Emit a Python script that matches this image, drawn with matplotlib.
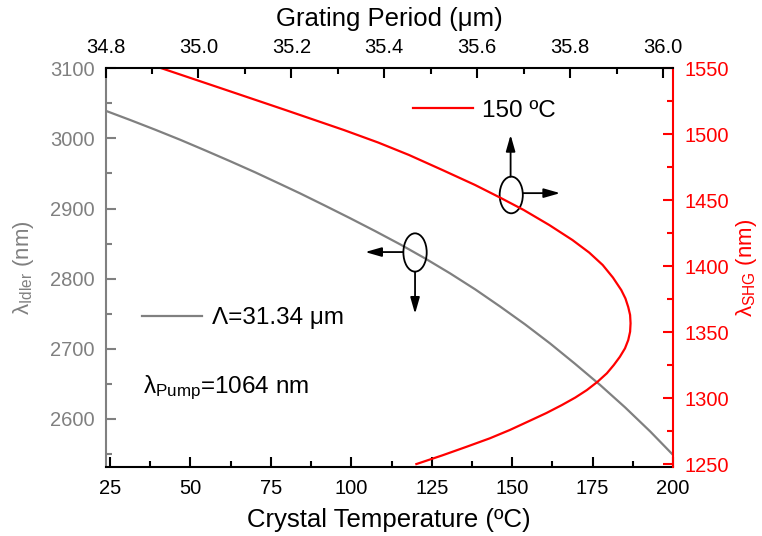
import matplotlib
matplotlib.use("Agg")
import matplotlib.pyplot as plt
from matplotlib.patches import Ellipse
from matplotlib.lines import Line2D
from matplotlib.ticker import MultipleLocator

plt.rcParams['font.family'] = ['Liberation Sans', 'DejaVu Sans']
plt.rcParams['mathtext.fontset'] = 'custom'
plt.rcParams['mathtext.rm'] = 'Liberation Sans'
plt.rcParams['mathtext.it'] = 'Liberation Sans:italic'

# -------------------------
# Data
# -------------------------
# idler wavelength vs crystal temperature (grating 31.34 um)
temp_c = [23.6, 31.2, 39.0, 46.8, 54.5, 62.3, 70.1, 77.8, 84.1, 91.8, 99.6, 107.4,
          115.2, 122.9, 130.7, 138.5, 146.2, 154.0, 161.8, 169.5, 177.3, 185.1, 192.9, 200]
idler_nm = [3039.5, 3026.4, 3012.5, 2998.1, 2983.1, 2967.6, 2951.7, 2935.2, 2921.6, 2904.2,
            2886.3, 2867.9, 2848.9, 2829.0, 2807.6, 2784.8, 2760.5, 2734.9, 2707.6, 2678.8,
            2648.6, 2616.5, 2582.2, 2548.7]

# SHG wavelength vs grating period (150 C)
period_um = [34.914, 35.060, 35.187, 35.313, 35.387, 35.453, 35.525, 35.595, 35.649, 35.700,
             35.755, 35.805, 35.841, 35.870, 35.892, 35.910, 35.919, 35.925, 35.929, 35.930,
             35.929, 35.925, 35.918, 35.907, 35.894, 35.879, 35.859, 35.836, 35.811, 35.782,
             35.749, 35.713, 35.670, 35.627, 35.577, 35.525, 35.469]
shg_nm = [1550.8, 1533.5, 1518.4, 1503.2, 1493.7, 1484.3, 1472.9, 1461.6, 1452.0, 1442.6,
          1431.2, 1419.8, 1410.3, 1400.9, 1391.4, 1381.9, 1375.5, 1369.0, 1363.0, 1356.7,
          1350.3, 1344.0, 1337.7, 1331.3, 1325.1, 1318.8, 1312.4, 1306.1, 1300.4, 1294.7,
          1288.7, 1282.8, 1275.8, 1269.5, 1263.1, 1256.6, 1250.0]

GRAY = "#808080"
RED = "#ff0000"
TICK_FS = 14.5
XLABEL_FS = 18.5
YLABEL_FS = 16
LEG_FS = 17.5

fig = plt.figure(figsize=(7.62, 5.36), dpi=100)
ax = fig.add_axes([0.1385, 0.1293, 0.7448, 0.7433])
ax2 = ax.twinx()
ax3 = ax2.twiny()

# idler curve (bottom / left axes)
ax.plot(temp_c, idler_nm, color=GRAY, lw=1.6)
ax.set_xlim(23.6, 200)
ax.set_ylim(2532, 3100)
ax.xaxis.set_major_locator(MultipleLocator(25))
ax.xaxis.set_minor_locator(MultipleLocator(12.5))
ax.yaxis.set_major_locator(MultipleLocator(100))
ax.yaxis.set_minor_locator(MultipleLocator(50))
ax.set_xlabel("Crystal Temperature (ºC)", fontsize=XLABEL_FS, labelpad=7)
ax.set_ylabel("λ$_{\\mathrm{Idler}}$ (nm)", fontsize=YLABEL_FS, color=GRAY, labelpad=10)

# SHG curve (top / right axes)
ax2.set_ylim(1248, 1550)
ax2.yaxis.set_major_locator(MultipleLocator(50))
ax2.yaxis.set_minor_locator(MultipleLocator(25))
ax2.set_ylabel("λ$_{\\mathrm{SHG}}$ (nm)", fontsize=YLABEL_FS, color=RED, labelpad=4)

ax3.plot(period_um, shg_nm, color=RED, lw=1.6)
ax3.set_xlim(34.8, 36.0215)
ax3.xaxis.set_major_locator(MultipleLocator(0.2))
ax3.xaxis.set_minor_locator(MultipleLocator(0.1))
ax3.xaxis.set_major_formatter(lambda v, pos: f"{v:.1f}")
ax3.set_xlabel("Grating Period (μm)", fontsize=XLABEL_FS, labelpad=9)

# spines
for a in (ax, ax2, ax3):
    for s in a.spines.values():
        s.set_visible(False)
        s.set_linewidth(1.5)
ax.spines['left'].set_visible(True)
ax.spines['left'].set_color(GRAY)
ax.spines['bottom'].set_visible(True)
ax2.spines['right'].set_visible(True)
ax2.spines['right'].set_color(RED)
ax3.spines['top'].set_visible(True)

# ticks
ax.tick_params(axis='x', which='both', direction='in', width=1.5, labelsize=TICK_FS, pad=9)
ax.tick_params(axis='x', which='major', length=7)
ax.tick_params(axis='x', which='minor', length=4)
ax.tick_params(axis='y', which='both', direction='in', width=1.5, color=GRAY,
               labelcolor=GRAY, labelsize=TICK_FS, pad=8)
ax.tick_params(axis='y', which='major', length=7)
ax.tick_params(axis='y', which='minor', length=4)
ax2.tick_params(axis='y', which='both', direction='in', width=1.5, color=RED,
                labelcolor=RED, labelsize=TICK_FS, pad=8)
ax2.tick_params(axis='y', which='major', length=7)
ax2.tick_params(axis='y', which='minor', length=4)
ax3.tick_params(axis='x', which='both', direction='in', width=1.5, labelsize=TICK_FS, pad=8)
ax3.tick_params(axis='x', which='major', length=7)
ax3.tick_params(axis='x', which='minor', length=4)

# legends
h_red = Line2D([], [], color=RED, lw=1.6)
leg1 = ax3.legend([h_red], ["150 ºC"], loc='center left', bbox_to_anchor=(0.542, 0.893),
                  frameon=False, fontsize=LEG_FS, handlelength=2.45, handletextpad=0.4,
                  borderpad=0, borderaxespad=0)
h_gray = Line2D([], [], color=GRAY, lw=1.6)
leg2 = ax3.legend([h_gray], ["Λ=31.34 μm"], loc='center left', bbox_to_anchor=(0.065, 0.372),
                  frameon=False, fontsize=LEG_FS, handlelength=2.45, handletextpad=0.4,
                  borderpad=0, borderaxespad=0)
ax3.add_artist(leg1)

ax3.text(0.066, 0.184, "λ$_{\\mathrm{Pump}}$=1064 nm", transform=ax3.transAxes,
         fontsize=LEG_FS, va='baseline', ha='left')

# ellipses + arrows marking which axis belongs to which curve
arr = dict(arrowstyle='-|>,head_length=0.7,head_width=0.2', color='black', lw=1.3,
           shrinkA=0, shrinkB=0, mutation_scale=14)
ax.add_patch(Ellipse((119.8, 2837.4), 7.25, 54.6, fill=False, ec='black', lw=1.3, zorder=5))
ax.annotate("", xy=(104.3, 2838), xytext=(116.1, 2838), arrowprops=arr)
ax.annotate("", xy=(119.8, 2750), xytext=(119.8, 2810), arrowprops=arr)
ax.add_patch(Ellipse((149.7, 2919.4), 7.2, 52.3, fill=False, ec='black', lw=1.3, zorder=5))
ax.annotate("", xy=(149.5, 3005), xytext=(149.5, 2945.5), arrowprops=arr)
ax.annotate("", xy=(164.9, 2922), xytext=(153.3, 2922), arrowprops=arr)

fig.savefig("out.png", dpi=100)
